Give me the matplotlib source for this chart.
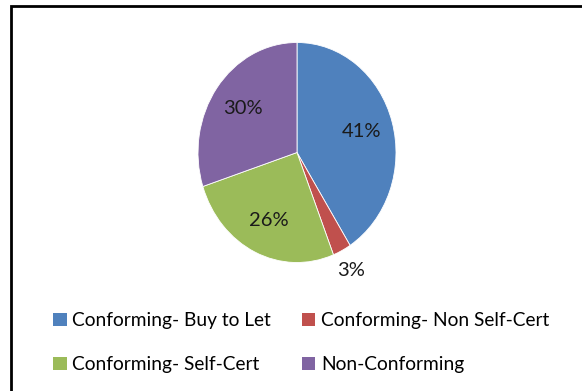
import matplotlib.pyplot as plt
from matplotlib.patches import Rectangle
import numpy as np

# Mortgage book split by product type
categories = ['Conforming- Buy to Let', 'Conforming- Non Self-Cert',
              'Conforming- Self-Cert', 'Non-Conforming']
shares = [41, 3, 26, 30]
colors = ['#4F81BD', '#C0504D', '#9BBB59', '#8064A2']

plt.rcParams['font.family'] = ['Lato', 'DejaVu Sans']

W, H = 582, 391
fig = plt.figure(figsize=(W / 100, H / 100), dpi=100)

# outer chart frame
fig.patches.append(Rectangle((11 / W, -0.1), 1.2, 1.1 - 6 / H,
                             transform=fig.transFigure, fill=False,
                             edgecolor='black', linewidth=2.0))

# pie axes (slightly stretched vertically)
cx, cy, rx, ry = 297, 152.5, 99, 110
ax = fig.add_axes([(cx - 1.25 * rx) / W, (H - cy - 1.25 * ry) / H,
                   2.5 * rx / W, 2.5 * ry / H])
wedges, texts, autotexts = ax.pie(
    shares, colors=colors, startangle=90, counterclock=False,
    autopct='%d%%', pctdistance=0.68,
    wedgeprops=dict(edgecolor='white', linewidth=0.6),
    textprops=dict(fontsize=14.5, color='#1a1a1a'))
ax.set_aspect('auto')
ax.set_xlim(-1.25, 1.25)
ax.set_ylim(-1.25, 1.25)

# the small slice gets its label outside the pie
w = wedges[1]
mid = np.deg2rad((w.theta1 + w.theta2) / 2)
autotexts[1].set_position((1.2 * np.cos(mid), 1.2 * np.sin(mid)))

# legend fills row by row
order = [0, 2, 1, 3]
leg = fig.legend([wedges[i] for i in order], [categories[i] for i in order],
                 ncol=2, loc='upper left',
                 bbox_to_anchor=(36 / W, 1 - 295 / H), frameon=False,
                 fontsize=13.8, handlelength=0.7, handleheight=0.7,
                 handletextpad=0.3, columnspacing=1.6, labelspacing=1.4)
for h in leg.legend_handles:
    h.set_edgecolor('none')

fig.savefig('out.png', dpi=100)
